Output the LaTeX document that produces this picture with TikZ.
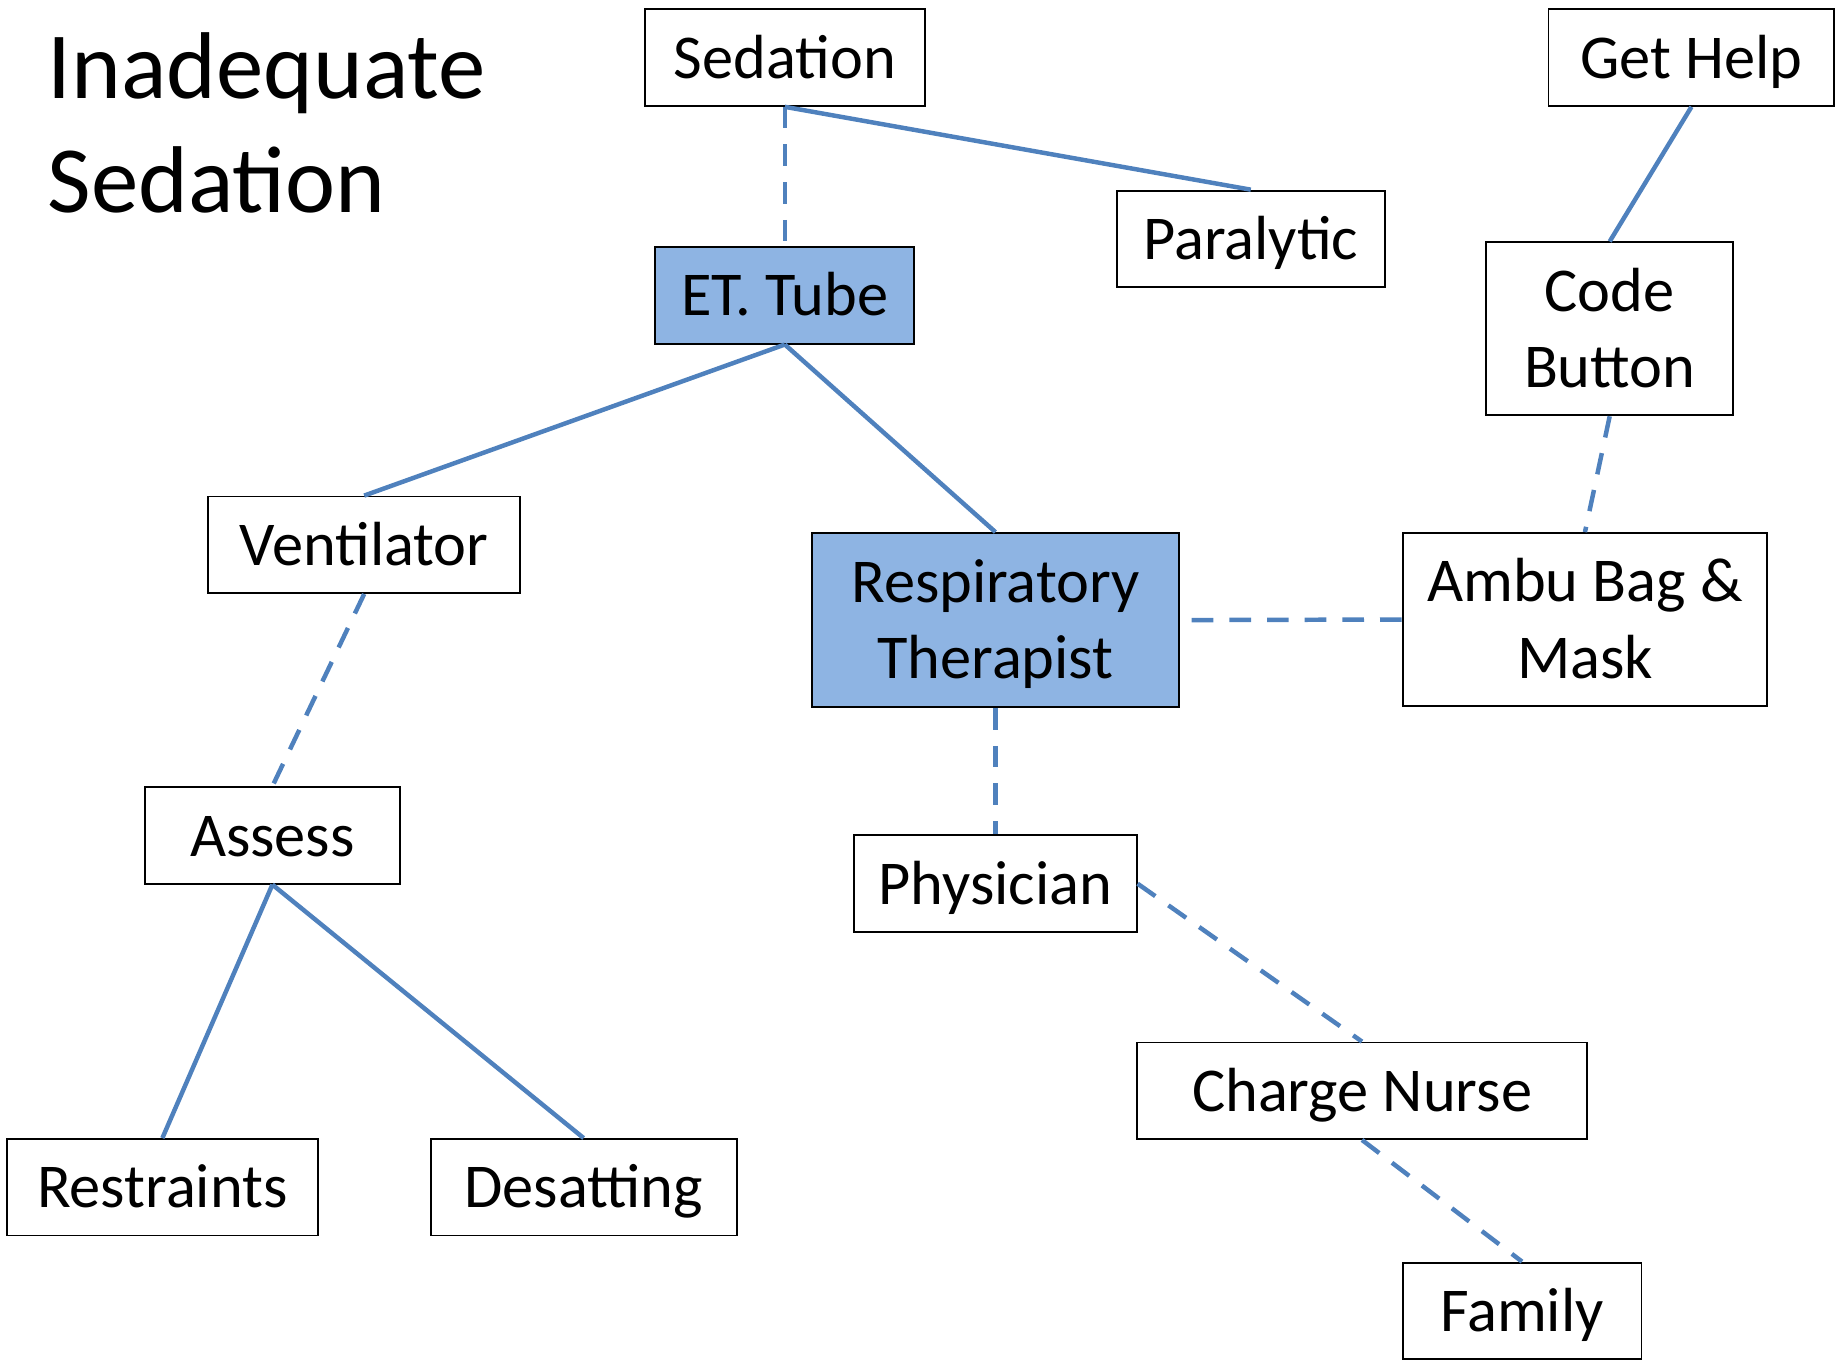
\documentclass[tikz,border=0pt]{standalone}
\usepackage{fontspec}
\setmainfont{Carlito}
\definecolor{linkblue}{RGB}{79,129,189}
\definecolor{keyfill}{RGB}{142,180,227}
% struts for two-line boxes: top of first line, bottom of last line
\newcommand\tstrut{\rule{0pt}{22.8pt}}
\newcommand\bstrut{\rule[-5.3pt]{0pt}{5.3pt}}
\begin{document}
\begin{tikzpicture}[x=0.5pt,y=-0.5pt,
  box/.style={draw=black, line width=0.8pt, fill=white, inner sep=0pt,
    font=\fontsize{26.5pt}{32.5pt}\selectfont, text height=22.8pt, text depth=5.3pt},
  tall/.style={text height=, text depth=, align=center},
  key/.style={fill=keyfill},
  link/.style={draw=linkblue, line width=1.9pt},
  dashlink/.style={link, dash pattern=on 9.2pt off 6.8pt},
  heading/.style={inner sep=0pt, align=left, anchor=base west,
    font=\fontsize{40.3pt}{48.75pt}\selectfont}
]
\useasboundingbox (0,0) rectangle (1568,1155);

% anchored at the baseline of its last line
\node[heading] (title) at (40,181) {Inadequate\\Sedation};

\node[box, minimum width=119pt,   minimum height=41pt] (sed)    at (667,49)      {Sedation};
\node[box, minimum width=114pt,   minimum height=41pt] (par)    at (1063,203)    {Paralytic};
\node[box, minimum width=121.5pt, minimum height=41pt] (help)   at (1437.5,49)   {Get Help};
\node[box, key, minimum width=110pt, minimum height=41pt] (ett)  at (667,251)    {ET. Tube};
\node[box, tall, minimum width=105pt, minimum height=73.5pt] (code) at (1368,279.5) {\tstrut Code\\Button\bstrut};
\node[box, minimum width=132.5pt, minimum height=41pt] (vent)   at (309.5,463)   {Ventilator};
\node[box, key, tall, minimum width=156pt, minimum height=74pt] (rt) at (846,527) {\tstrut Respiratory\\Therapist\bstrut};
\node[box, tall, minimum width=155pt, minimum height=73.5pt] (ambu) at (1347,526.5) {\tstrut Ambu Bag \&\\Mask\bstrut};
\node[box, minimum width=108.5pt, minimum height=41pt] (assess) at (231.5,710)   {Assess};
\node[box, minimum width=120pt,   minimum height=41pt] (phys)   at (846,751)     {Physician};
\node[box, minimum width=191.5pt, minimum height=41pt] (charge) at (1157.5,927)  {Charge Nurse};
\node[box, minimum width=132pt,   minimum height=41pt] (restr)  at (138,1009)    {Restraints};
\node[box, minimum width=130pt,   minimum height=41pt] (desat)  at (496,1009)    {Desatting};
\node[box, minimum width=101.5pt, minimum height=41pt] (family) at (1293.5,1114) {Family};

% solid links
\draw[link] (sed.south) -- (par.north);
\draw[link] (help.south) -- (code.north);
\draw[link] (ett.south) -- (vent.north);
\draw[link] (ett.south) -- (rt.north);
\draw[link] (assess.south) -- (restr.north);
\draw[link] (assess.south) -- (desat.north);

% dashed links
\draw[dashlink] (sed.south) -- (ett.north);
\draw[dashlink] (code.south) -- (ambu.north);
\draw[dashlink] (ambu.west) -- (rt.east);
\draw[dashlink] (vent.south) -- (assess.north);
\draw[dashlink] (rt.south) -- (phys.north);
\draw[dashlink] (phys.east) -- (charge.north);
\draw[dashlink] (charge.south) -- (family.north);
\end{tikzpicture}
\end{document}
